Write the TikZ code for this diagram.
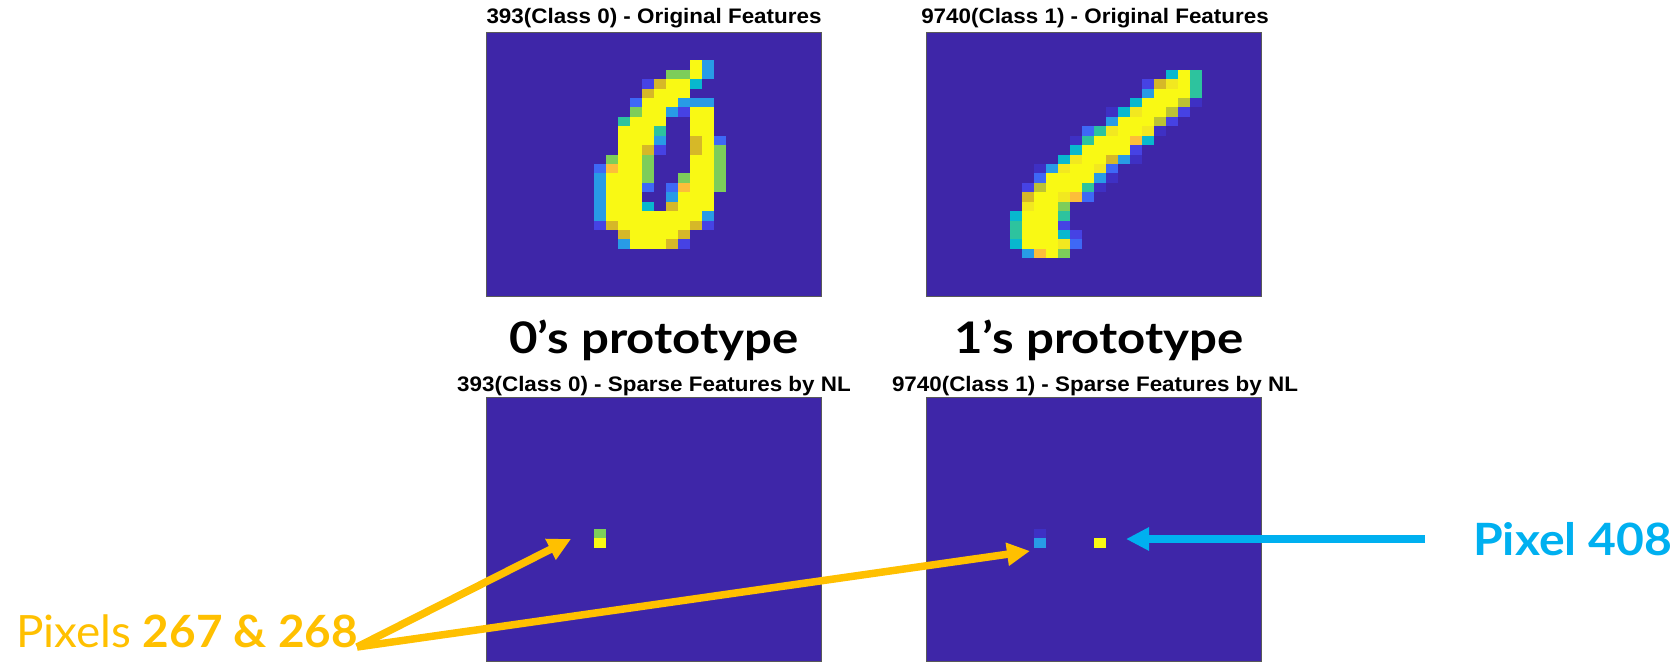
\documentclass[tikz,border=0pt]{standalone}
\usepackage{fontspec}
\setmainfont{Liberation Sans}
\newfontfamily\labelfont{Lato}
\usetikzlibrary{arrows.meta}

% parula-like palette
\definecolor{pbg}{RGB}{62,38,168}
\definecolor{pf}{RGB}{62,48,196}
\definecolor{pa}{RGB}{70,66,228}
\definecolor{pb}{RGB}{62,104,246}
\definecolor{pc}{RGB}{40,155,230}
\definecolor{pd}{RGB}{8,184,206}
\definecolor{pe}{RGB}{45,195,158}
\definecolor{pg}{RGB}{125,205,90}
\definecolor{pk}{RGB}{188,194,52}
\definecolor{ph}{RGB}{214,184,40}
\definecolor{po}{RGB}{252,190,58}
\definecolor{pm}{RGB}{242,232,32}
\definecolor{py}{RGB}{249,249,20}
\definecolor{aorange}{RGB}{255,192,0}
\definecolor{ablue}{RGB}{0,176,240}

% one 28x28 image cell size
\newcommand{\pxw}{11.982}
\newcommand{\pxh}{9.4286}
% runs of pixels: row/first column/last column/colour
\newcommand{\pixelgrid}[3]{%
  \foreach \rr/\ca/\cb/\cl in {#3}{%
    \fill[\cl] ({#1+\ca*\pxw},{#2+\rr*\pxh}) rectangle ({#1+(\cb+1)*\pxw},{#2+(\rr+1)*\pxh});}}
\newcommand{\imagepanel}[3]{%
  \fill[pbg] (#1,#2) rectangle ++(335.5,264);
  \pixelgrid{#1}{#2}{#3}
  \draw[imgbox] (#1,#2) rectangle ++(335.5,264);}

\begin{document}
\begin{tikzpicture}[x=1pt,y=-1pt,
  imgbox/.style={draw=black!65,line width=1pt},
  figtitle/.style={anchor=base,inner sep=0pt,font=\bfseries\fontsize{21}{25}\selectfont},
  protolabel/.style={anchor=base,inner sep=0pt,font=\labelfont\bfseries\fontsize{43.5}{50}\selectfont},
  pixlabel/.style={anchor=base west,inner sep=0pt,font=\labelfont\fontsize{44.5}{50}\selectfont},
  orangearrow/.style={draw=aorange,line width=7.5pt,-{Triangle[length=23pt,width=22pt]}},
  bluearrow/.style={draw=ablue,line width=7.5pt,-{Triangle[length=23pt,width=22pt]}}]
\fill[white] (0,0) rectangle (1677,662);
\useasboundingbox (0,0) rectangle (1677,662);

% digit 0, original features
\imagepanel{486}{32}{3/17/17/py, 3/18/18/pc,
 4/15/16/pg, 4/17/17/py, 4/18/18/pc,
 5/13/13/pa, 5/14/14/ph, 5/15/16/py, 5/17/17/pd,
 6/13/13/ph, 6/14/16/py,
 7/12/12/pb, 7/13/15/py, 7/16/18/pc,
 8/12/12/pg, 8/13/14/py, 8/15/15/pc, 8/16/16/pa, 8/17/18/py,
 9/11/11/pe, 9/12/14/py, 9/17/18/py,
 10/11/13/py, 10/14/14/pe, 10/17/18/py,
 11/11/13/py, 11/14/14/pc, 11/17/17/ph, 11/18/18/py, 11/19/19/pb,
 12/11/12/py, 12/13/13/ph, 12/14/14/pa, 12/17/17/ph, 12/18/18/py, 12/19/19/pg,
 13/10/10/pg, 13/11/12/py, 13/13/13/pg, 13/17/18/py, 13/19/19/pg,
 14/9/9/pb, 14/10/10/po, 14/11/12/py, 14/13/13/pg, 14/17/18/py, 14/19/19/pg,
 15/9/9/pc, 15/10/12/py, 15/13/13/pg, 15/16/16/pg, 15/17/18/py, 15/19/19/pg,
 16/9/9/pc, 16/10/12/py, 16/13/13/pb, 16/15/15/pb, 16/16/16/po, 16/17/18/py, 16/19/19/pg,
 17/9/9/pc, 17/10/12/py, 17/15/15/pc, 17/16/18/py,
 18/9/9/pc, 18/10/12/py, 18/13/13/pd, 18/15/15/ph, 18/16/18/py,
 19/9/9/pc, 19/10/17/py, 19/18/18/pc,
 20/9/9/pa, 20/10/10/ph, 20/11/16/py, 20/17/17/ph, 20/18/18/pa,
 21/11/11/ph, 21/12/15/py, 21/16/16/ph,
 22/11/11/pc, 22/12/14/py, 22/15/15/ph, 22/16/16/pa}

% digit 1, original features
\imagepanel{926}{32}{4/20/20/pd, 4/21/21/py, 4/22/22/pe,
 5/18/18/pa, 5/19/19/ph, 5/20/20/pm, 5/21/21/py, 5/22/22/pe,
 6/18/18/pc, 6/19/21/py, 6/22/22/pe,
 7/17/17/pd, 7/18/20/py, 7/21/21/pk, 7/22/22/pf,
 8/15/15/pf, 8/16/16/pd, 8/17/17/pm, 8/18/19/py, 8/20/20/pk, 8/21/21/pa,
 9/15/15/pc, 9/16/18/py, 9/19/19/pk, 9/20/20/pa,
 10/13/13/pb, 10/14/14/pe, 10/15/15/pm, 10/16/17/py, 10/18/18/pm, 10/19/19/pf,
 11/12/12/pf, 11/13/13/pe, 11/14/16/py, 11/17/17/po, 11/18/18/pd,
 12/12/12/pd, 12/13/16/py, 12/17/17/pa,
 13/11/11/pd, 13/12/12/pm, 13/13/14/py, 13/15/15/ph, 13/16/16/pc, 13/17/17/pf,
 14/9/9/pf, 14/10/10/pc, 14/11/11/pm, 14/12/13/py, 14/14/14/pm, 14/15/15/pb,
 15/9/9/pb, 15/10/13/py, 15/14/14/pc, 15/15/15/pf,
 16/8/8/pa, 16/9/9/pk, 16/10/12/py, 16/13/13/pe, 16/14/14/pf,
 17/8/8/ph, 17/9/10/py, 17/11/11/pm, 17/12/12/po, 17/13/13/pb,
 18/8/8/pm, 18/9/10/py, 18/11/11/pg,
 19/7/7/pd, 19/8/10/py, 19/11/11/pe,
 20/7/7/pe, 20/8/10/py, 20/11/11/pa,
 21/7/7/pe, 21/8/10/py, 21/11/11/pd, 21/12/12/pa,
 22/7/7/pd, 22/8/10/py, 22/11/11/pm, 22/12/12/pb,
 23/8/8/pc, 23/9/9/po, 23/10/10/py, 23/11/11/pg}

% sparse features
\imagepanel{486}{397}{14/9/9/pg, 15/9/9/py}
\imagepanel{926}{397}{14/9/9/pf, 15/9/9/pc, 15/14/14/py}

% titles
\node[figtitle] (t0) at (654,23) {\scalebox{1.067}[1]{393(Class 0) - Original Features}};
\node[figtitle] (t1) at (1095,23) {\scalebox{1.067}[1]{9740(Class 1) - Original Features}};
\node[figtitle] (s0) at (654,391) {\scalebox{1.067}[1]{393(Class 0) - Sparse Features by NL}};
\node[figtitle] (s1) at (1095,391) {\scalebox{1.067}[1]{9740(Class 1) - Sparse Features by NL}};
\node[protolabel] (proto0) at (654,353) {\scalebox{1.13}[1]{0’s prototype}};
\node[protolabel] (proto1) at (1099,353) {\scalebox{1.13}[1]{1’s prototype}};

% annotations
\node[pixlabel,text=aorange] (lab267) at (16,647) {\scalebox{1.03}[1]{Pixels \textbf{267 \& 268}}};
\node[pixlabel,text=ablue] (lab408) at (1473,555) {\scalebox{1.08}[1]{\textbf{Pixel 408}}};

\coordinate (ostart) at (357,647);
\coordinate (tip267) at (571,539);
\coordinate (tip267b) at (1030,551);
\coordinate (bstart) at (1425,539);
\coordinate (tip408) at (1126,539);
\draw[orangearrow] (ostart) -- (tip267);
\draw[orangearrow] (ostart) -- (tip267b);
\draw[bluearrow] (bstart) -- (tip408);
\end{tikzpicture}
\end{document}
